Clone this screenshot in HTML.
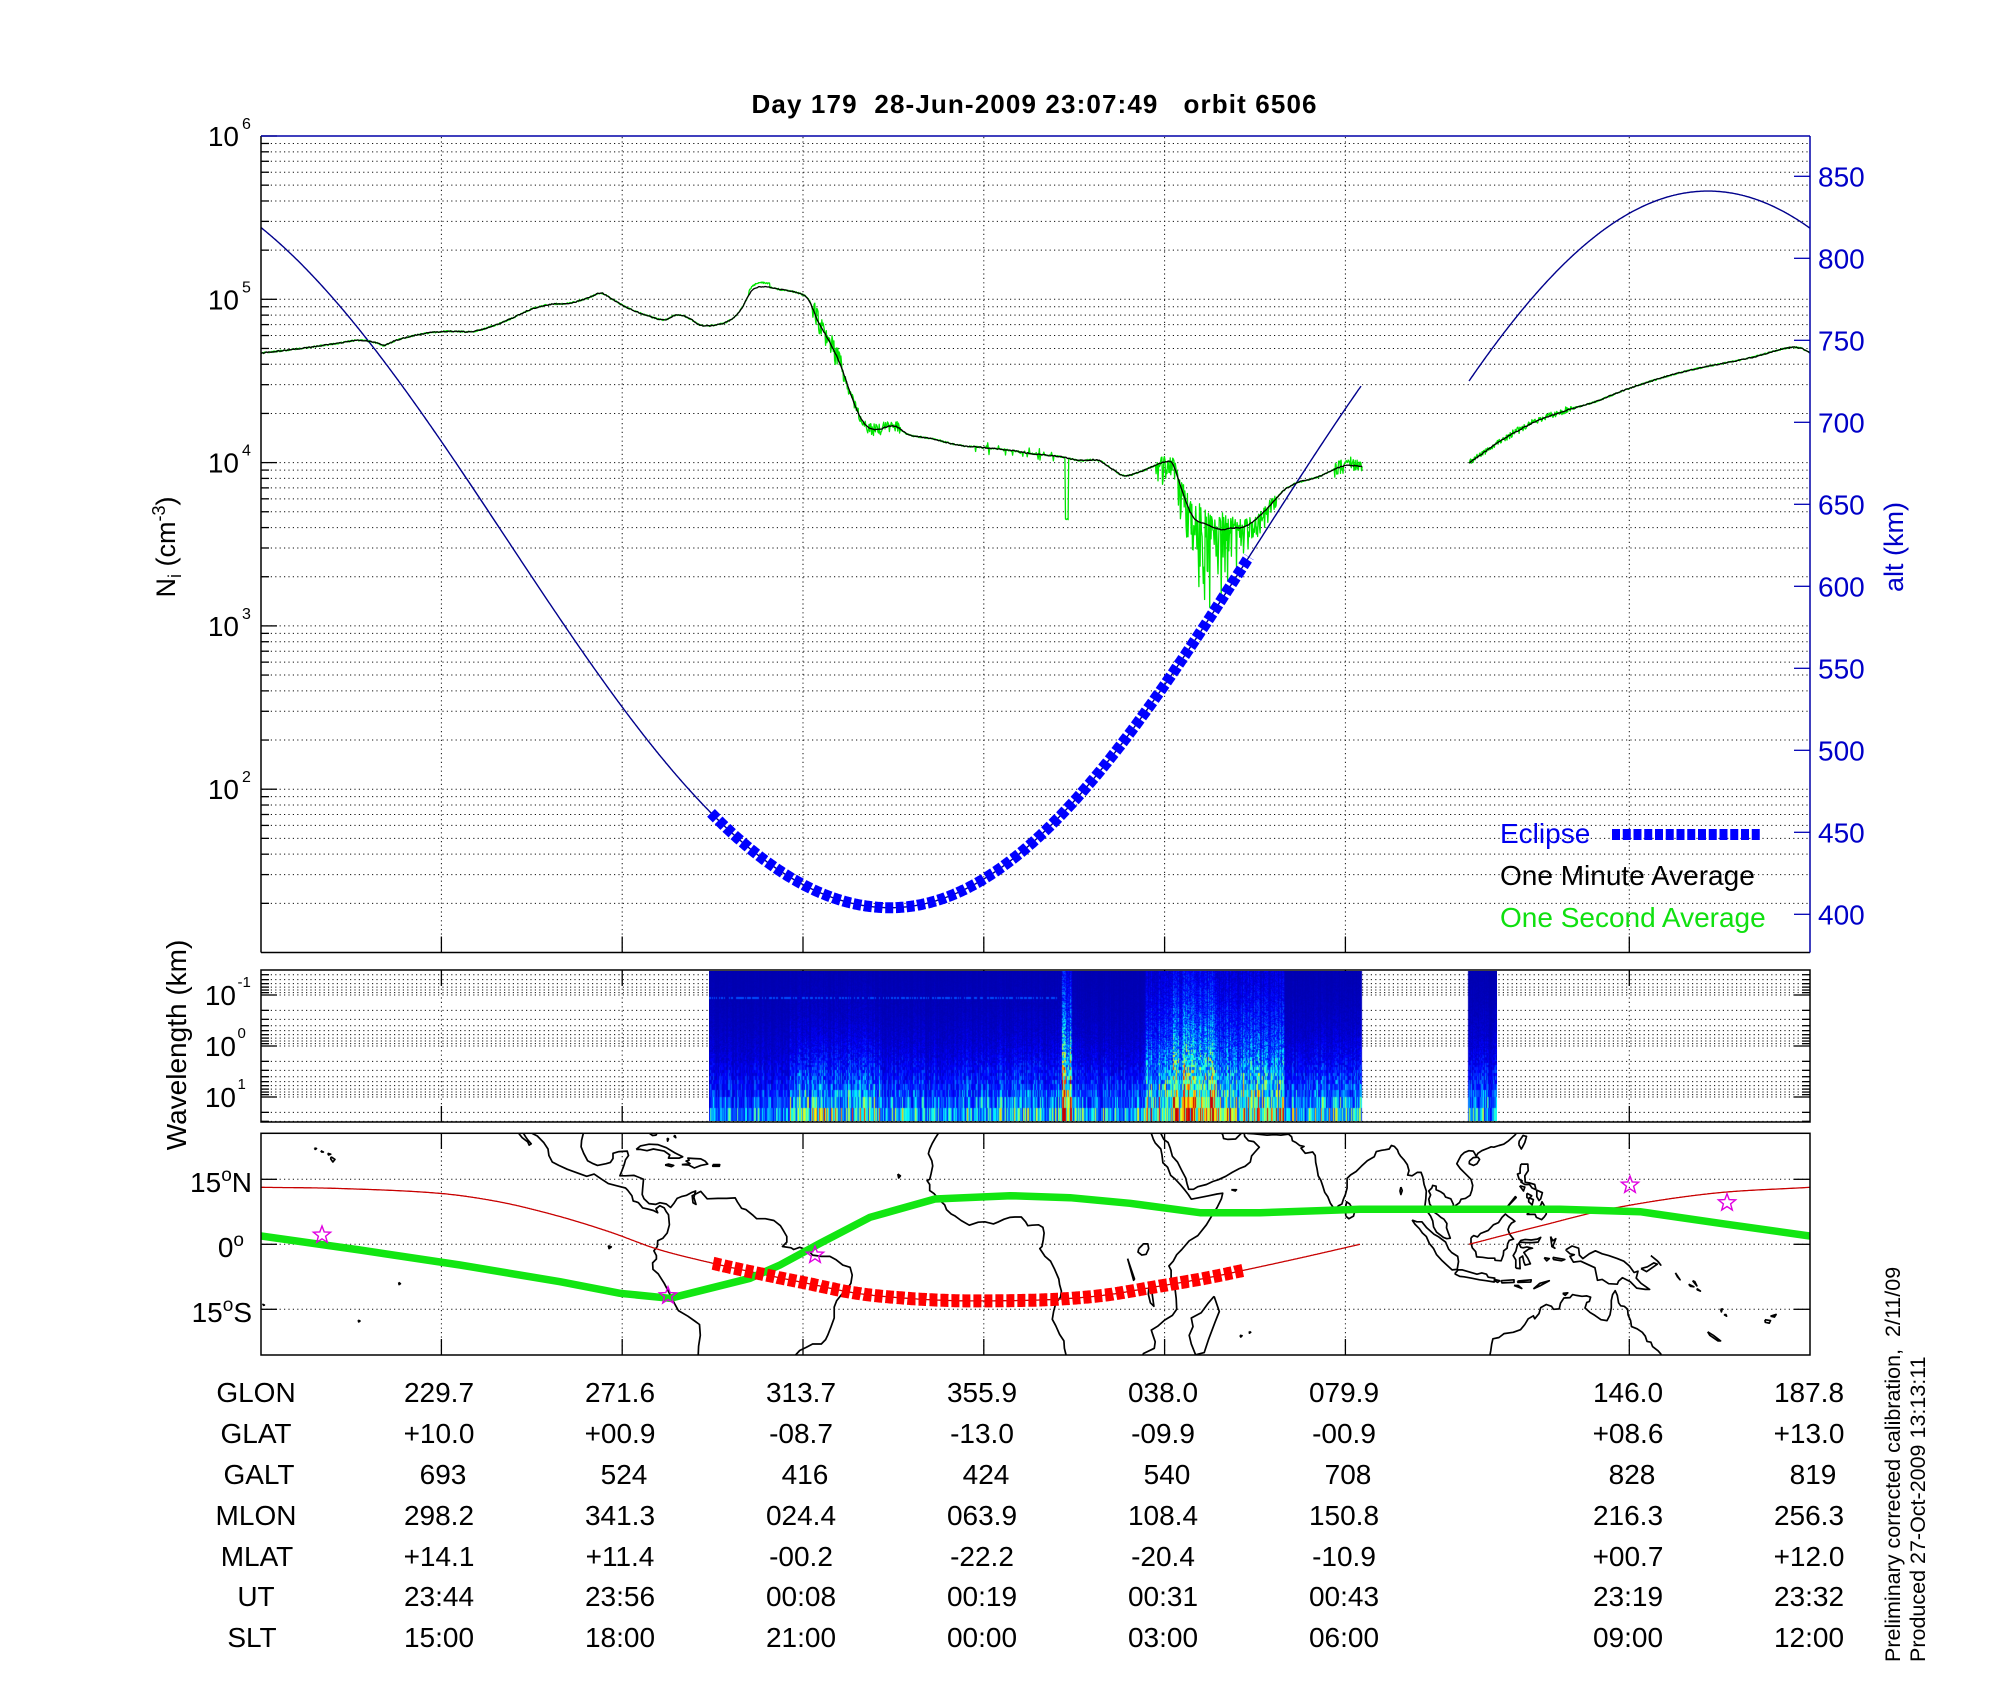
<!DOCTYPE html>
<html><head><meta charset="utf-8"><title>chart</title>
<style>
html,body{margin:0;padding:0;background:#fff;}
#wrap{position:relative;width:2000px;height:1700px;overflow:hidden;background:#fff;}
#s{position:absolute;left:0;top:0;}
#spec{position:absolute;left:709px;top:971px;}
text{font-family:"Liberation Sans",Arial,Helvetica,sans-serif;white-space:pre;}
</style></head>
<body><div id="wrap">
<svg id="s" xmlns="http://www.w3.org/2000/svg" width="2000" height="1700" viewBox="0 0 2000 1700">
<defs>
<clipPath id="cMain"><rect x="261" y="136" width="1549" height="816.5"/></clipPath>
<clipPath id="cMap"><rect x="261" y="1133.3" width="1549" height="221.7"/></clipPath>
</defs>
<rect x="0" y="0" width="2000" height="1700" fill="#fff"/>
<g id="grid"></g>
<g id="ticks"></g>
<g id="mainCurves" clip-path="url(#cMain)"></g>
<g id="mapG" clip-path="url(#cMap)"></g>
<g id="frames">
 <line x1="261" y1="136" x2="261" y2="952.5" stroke="#000" stroke-width="1.5"/>
 <line x1="261" y1="952.5" x2="1810" y2="952.5" stroke="#000" stroke-width="1.5"/>
 <line x1="261" y1="136" x2="1810" y2="136" stroke="#0000a8" stroke-width="1.5"/>
 <line x1="1810" y1="136" x2="1810" y2="952.5" stroke="#0000a8" stroke-width="1.5"/>
 <rect x="261" y="970" width="1549" height="152" fill="none" stroke="#000" stroke-width="1.5"/>
 <rect x="261" y="1133.3" width="1549" height="221.7" fill="none" stroke="#000" stroke-width="1.5"/>
</g>
<g id="legend"></g>

<text x="1034" y="113" font-weight="bold" font-size="26" text-anchor="middle" textLength="565" lengthAdjust="spacing" xml:space="preserve">Day 179  28-Jun-2009 23:07:49   orbit 6506</text>

<g font-size="28" fill="#000">
<text x="239" y="146" text-anchor="end">10</text><text x="242" y="129" font-size="16">6</text>
<text x="239" y="309.3" text-anchor="end">10</text><text x="242" y="292.3" font-size="16">5</text>
<text x="239" y="472.6" text-anchor="end">10</text><text x="242" y="455.6" font-size="16">4</text>
<text x="239" y="635.9" text-anchor="end">10</text><text x="242" y="618.9" font-size="16">3</text>
<text x="239" y="799.2" text-anchor="end">10</text><text x="242" y="782.2" font-size="16">2</text>
</g>
<text transform="translate(175,547) rotate(-90)" text-anchor="middle" font-size="27">N<tspan font-size="18" dy="6">i</tspan><tspan dy="-6"> (cm</tspan><tspan font-size="18" dy="-10">-3</tspan><tspan dy="10">)</tspan></text>

<g font-size="28" fill="#0000c8">
<text x="1818" y="186.3">850</text>
<text x="1818" y="268.3">800</text>
<text x="1818" y="350.3">750</text>
<text x="1818" y="432.3">700</text>
<text x="1818" y="514.3">650</text>
<text x="1818" y="596.3">600</text>
<text x="1818" y="678.3">550</text>
<text x="1818" y="760.3">500</text>
<text x="1818" y="842.3">450</text>
<text x="1818" y="924.3">400</text>
</g>
<text transform="translate(1903,547) rotate(-90)" text-anchor="middle" font-size="27" fill="#0000c8">alt (km)</text>

<text x="1500" y="843" font-size="28" fill="#0000ee">Eclipse</text>
<text x="1500" y="885" font-size="28" fill="#000">One Minute Average</text>
<text x="1500" y="927" font-size="28" fill="#10e010">One Second Average</text>

<g font-size="28">
<text x="236" y="1005" text-anchor="end">10</text><text x="237.5" y="987" font-size="15">-1</text>
<text x="236" y="1056" text-anchor="end">10</text><text x="237.5" y="1038" font-size="15">0</text>
<text x="236" y="1107" text-anchor="end">10</text><text x="237.5" y="1089" font-size="15">1</text>
</g>
<text transform="translate(186,1045) rotate(-90)" text-anchor="middle" font-size="28">Wavelength (km)</text>

<g font-size="28">
<text x="252" y="1192" text-anchor="end">15<tspan font-size="19" dy="-11">o</tspan><tspan dy="11">N</tspan></text>
<text x="244" y="1257" text-anchor="end">0<tspan font-size="19" dy="-11">o</tspan></text>
<text x="252" y="1322" text-anchor="end">15<tspan font-size="19" dy="-11">o</tspan><tspan dy="11">S</tspan></text>
</g>

<g font-size="28" text-anchor="middle" fill="#000">
<text x="256" y="1402">GLON</text><text x="439" y="1402">229.7</text><text x="620" y="1402">271.6</text><text x="801" y="1402">313.7</text><text x="982" y="1402">355.9</text><text x="1163" y="1402">038.0</text><text x="1344" y="1402">079.9</text><text x="1628" y="1402">146.0</text><text x="1809" y="1402">187.8</text>
<text x="256" y="1443">GLAT</text><text x="439" y="1443">+10.0</text><text x="620" y="1443">+00.9</text><text x="801" y="1443">-08.7</text><text x="982" y="1443">-13.0</text><text x="1163" y="1443">-09.9</text><text x="1344" y="1443">-00.9</text><text x="1628" y="1443">+08.6</text><text x="1809" y="1443">+13.0</text>
<text x="259" y="1484">GALT</text><text x="443" y="1484">693</text><text x="624" y="1484">524</text><text x="805" y="1484">416</text><text x="986" y="1484">424</text><text x="1167" y="1484">540</text><text x="1348" y="1484">708</text><text x="1632" y="1484">828</text><text x="1813" y="1484">819</text>
<text x="256" y="1525">MLON</text><text x="439" y="1525">298.2</text><text x="620" y="1525">341.3</text><text x="801" y="1525">024.4</text><text x="982" y="1525">063.9</text><text x="1163" y="1525">108.4</text><text x="1344" y="1525">150.8</text><text x="1628" y="1525">216.3</text><text x="1809" y="1525">256.3</text>
<text x="257" y="1566">MLAT</text><text x="439" y="1566">+14.1</text><text x="620" y="1566">+11.4</text><text x="801" y="1566">-00.2</text><text x="982" y="1566">-22.2</text><text x="1163" y="1566">-20.4</text><text x="1344" y="1566">-10.9</text><text x="1628" y="1566">+00.7</text><text x="1809" y="1566">+12.0</text>
<text x="256" y="1606">UT</text><text x="439" y="1606">23:44</text><text x="620" y="1606">23:56</text><text x="801" y="1606">00:08</text><text x="982" y="1606">00:19</text><text x="1163" y="1606">00:31</text><text x="1344" y="1606">00:43</text><text x="1628" y="1606">23:19</text><text x="1809" y="1606">23:32</text>
<text x="252" y="1647">SLT</text><text x="439" y="1647">15:00</text><text x="620" y="1647">18:00</text><text x="801" y="1647">21:00</text><text x="982" y="1647">00:00</text><text x="1163" y="1647">03:00</text><text x="1344" y="1647">06:00</text><text x="1628" y="1647">09:00</text><text x="1809" y="1647">12:00</text>
</g>

<text transform="translate(1900,1662) rotate(-90)" font-size="21.5" xml:space="preserve">Preliminary corrected calibration,  2/11/09</text>
<text transform="translate(1925,1662) rotate(-90)" font-size="21.5">Produced 27-Oct-2009 13:13:11</text>
</svg>
<canvas id="spec" width="788" height="150"></canvas>
</div>
<script>
(function(){
const NS='http://www.w3.org/2000/svg';
function el(p,t,a){const e=document.createElementNS(NS,t);for(const k in a)e.setAttribute(k,a[k]);p.appendChild(e);return e;}
let seed=20090628;
function R(){seed|=0;seed=seed+0x6D2B79F5|0;let t=Math.imul(seed^seed>>>15,1|seed);t=t+Math.imul(t^t>>>7,61|t)^t;return((t^t>>>14)>>>0)/4294967296;}
function interp(P,x){let i=0;while(i<P.length-2&&x>P[i+1][0])i++;const p0=P[Math.max(i-1,0)],p1=P[i],p2=P[i+1],p3=P[Math.min(i+2,P.length-1)];const dx=p2[0]-p1[0];let t=(x-p1[0])/dx;t=Math.max(0,Math.min(1,t));const m1=(p2[1]-p0[1])/(p2[0]-p0[0])*dx,m2=(p3[1]-p1[1])/(p3[0]-p1[0])*dx;const t2=t*t,t3=t2*t;return(2*t3-3*t2+1)*p1[1]+(t3-2*t2+t)*m1+(-2*t3+3*t2)*p2[1]+(t3-t2)*m2;}
const X=xd=>261+(xd-204)*1.276, Y=yd=>136+(yd-106)*1.277;
const XT=[441.4,622.2,803,983.8,1164.6,1345.4,1629.3];
const grid=document.getElementById('grid'), ticks=document.getElementById('ticks');
const DOT={stroke:'#111','stroke-width':1,'stroke-dasharray':'1.2,3.2',fill:'none'};
function dl(x1,y1,x2,y2){el(grid,'line',Object.assign({x1:x1,y1:y1,x2:x2,y2:y2},DOT));}
function tl(x1,y1,x2,y2,c){el(ticks,'line',{x1:x1,y1:y1,x2:x2,y2:y2,stroke:c||'#000','stroke-width':1.3});}
const yN=v=>136+(6-v)*163.3;
for(const x of XT){dl(x,137,x,951.5);tl(x,952.5,x,936.5);}
for(let d=1;d<=6;d++)for(let k=1;k<=9;k++){const v=d+Math.log10(k);if(v<=1.0001||v>6.0001)continue;const y=yN(v);if(v<5.9999)dl(262,y,1809,y);tl(261,y,261+(k==1?16:8),y);}
for(let a=400;a<=850;a+=50){const y=176.3+(850-a)*1.64;tl(1794,y,1810,y,'#0000b4');}
const yS=l=>1046+51*l;
for(let n=-2;n<=1;n++)for(let k=1;k<=9;k++){const l=n+Math.log10(k);const y=yS(l);if(y<=970.5||y>=1121.5)continue;dl(262,y,1809,y);const L=(k==1?16:8);tl(261,y,261+L,y);tl(1810,y,1810-L,y);}
for(const x of XT){dl(x,971,x,1121);tl(x,970,x,986);tl(x,1122,x,1106);}
for(const lat of [15,0,-15]){const y=1244.3-lat*4.333;dl(262,y,1809,y);tl(261,y,277,y);tl(1810,y,1794,y);}
for(const x of XT){dl(x,1134,x,1354);tl(x,1133.3,x,1149);tl(x,1355,x,1339);}

const mc=document.getElementById('mainCurves');
const altY=a=>176.3+(850-a)*1.64;
function altPre(x){const x0=890;if(x<x0)return 404+224.7*(1-Math.cos(0.0041*(x0-x)));return 404+225.7*(1-Math.cos(0.00423*(x-x0)));}
function altPost(x){return 841-247*(1-Math.cos(0.00423*(x-1708)));}
function pathFn(x0,x1,step,f){let d='';for(let x=x0;x<=x1+1e-6;x+=step){d+=(d?'L':'M')+x.toFixed(1)+' '+f(x).toFixed(1);}return d;}
el(mc,'path',{d:pathFn(261,1361,1,x=>altY(altPre(x)))+pathFn(1469,1810,1,x=>altY(altPost(x))),stroke:'#00008c','stroke-width':1.4,fill:'none'});

const BK1=[[204,276],[230,273],[260,269],[280,266],[295,268],[300,270],[310,266],[330,261],[350,259],[370,259],[385,255],[400,249],[415,242],[430,238],[445,237],[460,233],[470,229],[478,233],[490,240],[505,246],[520,250],[530,246],[540,249],[548,254],[560,254],[572,250],[580,242],[588,228],[595,224],[610,226],[625,229],[633,234],[640,250],[650,268],[658,285],[668,313],[676,330],[685,336],[700,333],[712,340],[730,343],[750,348],[770,350],[790,352],[810,355],[830,357],[845,360],[860,360],[870,366],[880,372],[890,370],[900,366],[910,362],[918,362],[922,372],[928,390],[935,405],[945,410],[955,414],[965,413],[975,412],[985,405],[995,395],[1005,384],[1015,378],[1025,375],[1035,372],[1045,367],[1055,364],[1067,365]];
const BK2=[[1151,362],[1165,352],[1180,342],[1200,331],[1215,325],[1230,320],[1250,314],[1270,306],[1290,299],[1310,293],[1330,288],[1350,284],[1370,280],[1385,276],[1400,272],[1410,272],[1418,276]];
function gN(x){
 let n=(R()-0.5)*1.2;
 if(x>586&&x<603) n-=3;
 if(x>636&&x<662) n+=(R()-0.5)*18;
 else if(x>=662&&x<706) n+=(R()-0.5)*9;
 if(x>760&&x<832&&R()<0.2) n+=(R()-0.5)*10;
 if(x>=834.5&&x<=836.5) n+=48;
 if(x>905&&x<1000){const A=50*Math.exp(-Math.pow((x-947)/22,2))+14;const r=R();n+= r<0.55? Math.pow(R(),1.5)*A : -(R()*A*0.25);}
 if(x>1045&&x<1068) n+=(R()-0.5)*12;
 if(x>1151&&x<1235) n+=(R()-0.5)*5;
 return n;
}
let dg='';
for(const P of [BK1,BK2]){let first=true;for(let xd=P[0][0];xd<=P[P.length-1][0]+1e-6;xd+=0.5){const yd=interp(P,xd)+gN(xd);dg+=(first?'M':'L')+X(xd).toFixed(1)+' '+Y(yd).toFixed(1);first=false;}}
el(mc,'path',{d:dg,stroke:'#00e600','stroke-width':1.3,fill:'none','stroke-linejoin':'round'});
let db='';
for(const P of [BK1,BK2]){let first=true;for(let xd=P[0][0];xd<=P[P.length-1][0]+1e-6;xd+=1){const yd=interp(P,xd)+(R()-0.5)*0.8;db+=(first?'M':'L')+X(xd).toFixed(1)+' '+Y(yd).toFixed(1);first=false;}}
el(mc,'path',{d:db,stroke:'#000','stroke-width':1.3,fill:'none','stroke-linejoin':'round'});
el(mc,'path',{d:pathFn(711,1249,1,x=>altY(altPre(x))),stroke:'#0000ff','stroke-width':11,'stroke-dasharray':'8,2.7',fill:'none'});

const lg=document.getElementById('legend');
for(let i=0;i<14;i++){el(lg,'rect',{x:1612+i*10.75,y:829,width:8,height:11,fill:'#0000ff'});}

const mg=document.getElementById('mapG');
const MX=lon=>{let L=lon+360;if(L<187.8)L+=360;return 261+(L-187.8)*4.303;}, MY=lat=>1244.3-lat*4.333;
const COAST=[
[[-155.9,20.2],[-155,19.6],[-155.5,19],[-156,19.7],[-155.9,20.2]],
[[-156.7,21],[-156,20.8],[-156.5,20.6],[-156.7,21]],
[[-158.3,21.6],[-157.7,21.3],[-158.1,21.3],[-158.3,21.6]],
[[-159.8,22.2],[-159.3,22.1],[-159.6,21.9],[-159.8,22.2]],
[[-112.3,25.6],[-111.5,24.6],[-110.2,23.6],[-109.9,22.9],[-109.4,23.2],[-110.3,24.2],[-110.7,24.8],[-111.2,25.6]],
[[-109.2,25.6],[-108,25],[-106.5,23.5],[-105.5,22],[-105.3,20.5],[-104.5,19],[-103,18.2],[-101,17.3],[-99,16.6],[-96.5,15.7],[-94.8,16.2],[-93,15],[-91.5,14],[-89.5,13.5],[-87.5,13],[-87,12.5],[-86,11.2],[-85.7,10],[-85,9.8],[-84.5,9.6],[-83.5,8.4],[-82.5,8.2],[-81,7.8],[-80,7.3],[-80.4,8.2],[-79.5,8.9],[-78.5,8.4],[-78,7.5],[-77.5,6.8],[-77.3,4.5],[-77.8,2.6],[-78.8,1.4],[-80,0.8],[-80.1,-0.5],[-80.9,-1.5],[-80.3,-2.6],[-80.3,-3.4],[-81.2,-4.3],[-81.1,-5.8],[-79.9,-6.8],[-78.5,-9],[-77.2,-11.5],[-76.2,-13.5],[-75.2,-15.3],[-73,-16.6],[-71.4,-17.7],[-70.3,-18.5],[-70.1,-21],[-70.5,-23.5],[-70.6,-25.6]],
[[-97.3,25.6],[-97.7,24],[-97.8,22.5],[-97.2,21],[-96.3,19.3],[-95,18.6],[-94,18.2],[-92,18.6],[-91,18.9],[-90.4,19.8],[-90.4,21],[-89,21.4],[-87.1,21.5],[-86.8,20.5],[-87.5,19.5],[-87.8,18.4],[-88.3,17],[-88.8,15.8],[-87.5,15.8],[-85.5,15.9],[-84,15.3],[-83.3,15],[-83.5,13],[-83.6,11.5],[-83.2,10.5],[-82,9.4],[-80.5,9.2],[-79.5,9.6],[-78,9.3],[-77,8.5],[-76.2,9.5],[-75.5,10.6],[-74.5,11],[-73.3,11.3],[-72,12],[-71.2,12.3],[-71.6,10.8],[-71.1,9.2],[-71.8,9.6],[-72,11.2],[-70,12.2],[-68.5,10.5],[-66,10.6],[-64,10.6],[-62,10.7],[-61.5,9.8],[-60.5,8.3],[-59.5,8],[-58,6.8],[-57,5.9],[-55,5.9],[-53,5.5],[-51.5,4.3],[-51,3.5],[-50,1.8],[-50,0.5],[-51,-0.5],[-49,-0.8],[-48.4,-1.2],[-47,-0.7],[-45,-1.4],[-44,-2.5],[-42,-2.8],[-40,-2.8],[-38.5,-3.6],[-37,-4.8],[-35.3,-5.3],[-34.8,-7.1],[-35.1,-9],[-36,-10.3],[-37.2,-11.5],[-38.4,-13],[-39,-14.5],[-39,-17],[-39.7,-19],[-40.5,-21],[-41,-22],[-42,-23],[-44,-23],[-45.5,-23.8],[-47,-24.5],[-48,-25.6]],
[[-81.9,25.6],[-81.2,25.1],[-80.4,25.2],[-80.2,25.6]],
[[-85,21.9],[-84,22.7],[-82,23.1],[-80,23],[-78,22.3],[-76,21.1],[-74.2,20.2],[-75,19.9],[-77.5,19.9],[-77.2,20.6],[-78.5,21.5],[-81,22],[-82.5,21.6],[-84,21.9],[-85,21.9]],
[[-74.4,18.4],[-72.8,18.3],[-71.5,17.6],[-70,18.2],[-68.4,18.5],[-69,19.2],[-70,19.7],[-71.7,19.8],[-73,19.9],[-72.7,19.4],[-73.4,19.2],[-72.5,18.6],[-74.4,18.4]],
[[-78.3,18.3],[-77.5,18.5],[-76.3,18.2],[-76.8,17.9],[-78.3,18.3]],
[[-67.2,18.4],[-65.6,18.4],[-65.7,18],[-67.2,18],[-67.2,18.4]],
[[-77.8,24.5],[-77.7,23.8],[-77.5,24.3],[-77.8,24.5]],
[[-76,25.2],[-75.8,24.6],[-76.2,24.9],[-76,25.2]],
[[-91.5,-0.3],[-90.8,-0.6],[-91.3,-1],[-91.5,-0.3]],
[[-24.2,16.2],[-23.6,15.8],[-24,15.3],[-24.2,16.2]],
[[-140.2,-8.8],[-139.8,-9.1],[-140.1,-9.3],[-140.2,-8.8]],
[[-149.6,-17.5],[-149.2,-17.7],[-149.5,-17.9],[-149.6,-17.5]],
[[-171.9,-13.8],[-171.4,-14.0],[-171.8,-14.1]],
[[-14.8,25.6],[-15.5,24.5],[-16.2,23.3],[-16.8,22],[-17.1,20.9],[-16.3,19.3],[-16.1,18.1],[-16.5,16.2],[-16.8,15],[-17.4,14.7],[-16.8,13.8],[-16.8,12.4],[-15.8,11.7],[-15,10.8],[-14.5,10.2],[-13.3,9.1],[-12.9,8],[-11.8,7],[-11,6.6],[-9.5,5.5],[-7.6,4.4],[-5.5,5.1],[-4,5.2],[-2,4.7],[-1,5.1],[0.5,5.8],[1.8,6.2],[3,6.3],[4.5,6.3],[5.5,5.2],[6,4.3],[7,4.4],[8.5,4.5],[9.5,3.9],[9.8,2.6],[9.6,1.1],[9.3,-0.5],[8.8,-1],[10,-2.8],[11.3,-3.9],[12.2,-5.7],[13.2,-8],[13.4,-9.3],[13.8,-10.8],[13.6,-12.2],[12.5,-13.6],[12,-15.5],[11.7,-17.3],[12.5,-18.8],[13.4,-20.8],[14.4,-22.3],[14.5,-24],[14.9,-25.6]],
[[32.7,-25.6],[32.9,-25.2],[35.4,-24],[35.6,-22.5],[35.1,-21],[34.7,-19.8],[36.2,-18.9],[37.8,-17.5],[39.6,-16.4],[40.6,-15],[40.5,-12.5],[40.2,-10.2],[39.3,-8],[39.3,-6],[38.8,-5],[39.8,-3.9],[40.6,-2.4],[41.8,-1.2],[43.5,0.8],[45.5,2],[47.5,4.5],[48.9,6.8],[50,8.5],[51,10.5],[51.3,11.8],[50,11.6],[48,11.2],[45.5,10.7],[44,10.4],[43.3,11.5],[42.5,12.5],[41.5,13.7],[40.3,15],[39.2,15.9],[38.5,17.8],[37.4,18.8],[37.2,20.6],[36.9,22],[35.6,23.4],[35.2,24.2],[34.7,25.6]],
[[36.9,25.6],[37.6,24.2],[38.6,23.5],[39.1,22.2],[39.6,20.3],[40.8,19],[41.8,17],[42.7,15.3],[43,14],[43.4,12.7],[44.5,12.7],[45.5,13.3],[47.5,13.8],[49,14.5],[50.3,14.9],[52,15.7],[53.5,16.6],[55.2,17.5],[56.5,18],[57.7,19],[58,20.4],[58.8,21.3],[59.8,22.4],[59.2,23],[58.5,23.7],[57.3,23.9],[56.4,24.9],[56.3,25.6]],
[[55.6,25.6],[54.3,24.3],[52.5,24.2],[51.5,24.4],[51.3,25.3],[51.1,25.6]],
[[53.3,12.6],[54.5,12.6],[54.2,12.3],[53.3,12.6]],
[[31.8,-1],[32.9,0.1],[33.9,0.1],[34.1,-1],[33.5,-2.3],[32.5,-2.5],[31.6,-1.8],[31.8,-1]],
[[29.2,-3.3],[30.6,-8.3],[30.8,-8],[29.6,-4.5],[29.2,-3.3]],
[[34.2,-9.5],[34.9,-11.5],[35.3,-14.3],[34.5,-13.5],[34,-11.5],[34.2,-9.5]],
[[49.3,-12],[50.5,-15.5],[49.5,-18],[48,-22],[47,-25],[45,-25.5],[44,-23],[43.5,-21],[44.4,-19],[44,-17],[46.3,-15.8],[48,-13.5],[49.3,-12]],
[[57.5,-20.1],[57.8,-20.3],[57.5,-20.5],[57.5,-20.1]],
[[55.3,-21],[55.8,-21.1],[55.5,-21.4],[55.3,-21]],
[[57,25.6],[58.5,25.5],[60.5,25.3],[61.6,25.2],[63.5,25.3],[64.8,25.2],[66.6,25.4],[67.3,24.8],[67.5,23.9],[68.3,23.5],[69.2,22.8],[70.2,22.6],[69.5,22.2],[70.5,21],[72.2,21.3],[72.8,20.5],[72.9,18.9],[73.2,17.5],[73.5,15.8],[74.1,14.8],[74.6,13.3],[75,12],[75.7,11],[76.3,9.5],[77,8.5],[77.5,8.1],[78.2,8.9],[79,9.3],[79.3,10.3],[79.8,11.5],[80.2,13],[80.2,15.2],[81,16],[82.3,16.8],[83.5,18],[84.9,19.3],[86.5,20.2],[87,21.4],[88.2,21.7],[89,21.8],[90,22],[90.5,22.8],[91.2,22.6],[91.9,21.8],[92.2,21],[92.6,20.4],[93.4,19.5],[94.2,18.4],[94.6,17],[94.3,16],[95.3,15.8],[96.5,16.6],[97.4,16.6],[97.8,15.5],[98.1,13.8],[98.6,12.3],[98.5,10.5],[98.3,9],[98.2,8],[98.6,7.9],[99.6,6.5],[100.1,5.4],[100.3,4],[101,2.8],[102.6,1.6],[103.4,1.3],[104.2,1.4],[103.7,2.7],[103.3,3.8],[103.4,4.8],[102.7,5.8],[102,6.2],[101.2,6.9],[100.3,7.5],[100,8.5],[99.4,9.3],[99.2,10.4],[99.6,11.4],[99.2,12.3],[99.9,13],[100.1,13.6],[100.9,13.4],[100.9,12.6],[102,12.1],[102.7,11.6],[103.1,10.9],[104.3,10.5],[104.9,9.2],[104.8,8.6],[105.1,8.7],[106.3,9.6],[106.7,10.4],[107.7,10.6],[108.8,11.3],[109.2,12.5],[109.4,13.6],[109,15],[108.4,15.6],[107.5,16.5],[106.5,17.5],[105.7,18.6],[106.2,19.6],[106.7,20.5],[107.5,21.2],[108.5,21.6],[109.5,21.5],[109.8,21.1],[110.2,20.3],[110.6,21],[111.5,21.6],[113,22.2],[113.7,22.5],[114.3,22.4],[115.5,22.8],[116.6,23.1],[117.6,23.8],[118.5,24.6],[119.2,25.2],[119.5,25.6]],
[[79.9,6.5],[79.8,8.3],[80.1,9.8],[80.8,9.3],[81.3,8.5],[81.9,7.3],[81.7,6.5],[80.6,5.9],[79.9,6.5]],
[[92.7,13.2],[93,12.4],[92.7,11.5],[92.5,12.3],[92.7,13.2]],
[[108.6,19.2],[109.5,20],[110.6,20.1],[111,19.6],[110.4,18.6],[109.6,18.2],[108.6,18.6],[108.6,19.2]],
[[120.1,23],[120.7,22],[121,22.5],[121.5,23.5],[121.9,24.9],[121.1,25.1],[120.2,23.8],[120.1,23]],
[[95.3,5.6],[96.4,5.2],[97.6,5.2],[98.7,3.8],[100.4,2.3],[101.5,1.7],[103.1,0.5],[103.8,-1.1],[104.5,-1.9],[105.9,-2.8],[106.1,-4],[105.8,-5.8],[104.6,-5.9],[103.4,-4.8],[102.3,-3.8],[101,-2.4],[100.3,-1],[99.3,0.2],[98.6,1.8],[97.7,2.6],[97,3.6],[96,4.6],[95.3,5.6]],
[[105.2,-6.8],[106,-5.9],[107,-5.9],[108.3,-6.3],[110.4,-6.9],[111.5,-6.6],[112.6,-6.9],[113,-7.6],[114.5,-7.8],[114.4,-8.7],[112.5,-8.4],[111,-8.2],[109,-7.8],[107.4,-7.5],[106.4,-7.4],[105.4,-6.9],[105.2,-6.8]],
[[109,1.5],[109.6,2],[110.5,1.7],[111.2,2.5],[113,3.2],[114.2,4.5],[115.4,5],[116.2,6.2],[117,7],[117.7,6.4],[118.6,5.8],[119.2,5.3],[118.4,4.9],[117.9,4.2],[117.6,3.4],[118,2.3],[118.9,1.2],[117.9,0.9],[117.5,0.1],[117.4,-0.9],[116.6,-1.5],[116.5,-2.5],[116.2,-3.3],[116,-3.8],[114.6,-3.7],[114.5,-3.2],[113,-3.2],[111.7,-3],[110.3,-2.9],[110.1,-1.7],[109.3,-0.8],[109,0.3],[109,1.5]],
[[119.4,-5.5],[120.4,-5.6],[120.3,-3.2],[121,-2.7],[121.3,-4.1],[121.6,-4.8],[122.8,-4.5],[122.2,-3.2],[121.3,-1.9],[122.4,-1.1],[123.3,-0.9],[122,-0.6],[121.1,-0.8],[120.6,-0.7],[120.1,0.2],[120.6,0.9],[121.6,1.1],[123,1],[124.4,1.2],[125.2,1.6],[124.6,0.5],[123.2,0.4],[121.8,0.4],[120.4,0.5],[119.8,-0.1],[119.4,-1.6],[118.8,-2.6],[119.4,-3.6],[119.4,-5.5]],
[[120.6,18.5],[122.2,18.5],[122.3,17],[121.5,15.8],[121.6,14.3],[122.5,14.2],[123.8,13.8],[124.1,12.6],[123.2,13],[122.6,13.8],[121.5,13.8],[120.6,14.4],[120.9,14.6],[120.2,15],[119.8,16.2],[120.4,16.4],[120.4,17.5],[120.6,18.5]],
[[120.4,13.5],[121.5,13.2],[121.2,12.3],[120.3,13.5]],
[[117.2,8.4],[119.5,10.8],[119.3,11],[117.2,8.4]],
[[122,11.8],[123.1,11.2],[122.5,10.5],[122,10.8],[122,11.8]],
[[122.4,10.8],[123.5,10.3],[123.2,9.1],[122.4,9.8],[122.4,10.8]],
[[124.3,12.5],[125.6,11.9],[125.2,10.5],[124.8,10.1],[124.3,11],[124.3,12.5]],
[[122,7.1],[123.5,7.8],[124.3,8.3],[125.2,9],[125.5,9.8],[126.4,8.3],[126.5,7],[126,6.3],[125.4,5.7],[124.2,6.2],[123.9,6.9],[122.1,6.9],[122,7.1]],
[[127.5,1.8],[128,0.8],[128.7,1.3],[128,-0.5],[128.5,-0.9],[127.8,-0.5],[127.5,1.8]],
[[128,-3],[130.8,-3.5],[130,-3.8],[128.2,-3.5],[128,-3]],
[[126,-3.1],[127.2,-3.3],[126.6,-3.8],[126,-3.1]],
[[114.4,-8.1],[115.7,-8.4],[115.2,-8.8],[114.5,-8.4],[114.4,-8.1]],
[[116,-8.4],[119,-8.2],[119,-8.8],[116.2,-8.9],[116,-8.4]],
[[119.8,-8.5],[123,-8.2],[122.9,-8.7],[119.9,-8.8],[119.8,-8.5]],
[[119,-9.5],[120.8,-10.2],[120,-9.5],[119,-9.5]],
[[123.5,-10.3],[125,-9],[127.2,-8.4],[125,-9.6],[123.5,-10.3]],
[[131,-1.3],[132.5,-0.4],[134,-0.9],[134.2,-2.5],[135,-3.3],[136.5,-2.2],[137.9,-1.5],[139.5,-2.2],[141,-2.6],[143,-3.3],[144.5,-3.9],[145.8,-5],[146.9,-6.5],[147.8,-6.2],[147.4,-7.8],[148.5,-9],[149.5,-9.7],[150.5,-10.4],[149.5,-10.4],[147.5,-10.1],[146,-8.6],[144.2,-7.7],[143.3,-8.5],[143,-9.2],[141,-9.1],[139.5,-8.1],[138.4,-8.3],[137.8,-5.4],[136,-4.6],[134.5,-3.9],[132.8,-4.1],[132,-2.8],[133,-2.4],[132,-2.2],[131,-1.3]],
[[148.5,-5.6],[150,-5.2],[151.5,-4.3],[152.3,-4.6],[151,-5.5],[149.8,-6.3],[148.5,-5.6]],
[[150.8,-2.6],[152.5,-4],[153.1,-4.8],[152.3,-3.8],[150.8,-2.6]],
[[156.5,-6.6],[157.6,-8.2],[157,-7.5],[156.5,-6.6]],
[[159.6,-9.2],[160.8,-9.8],[160,-9.7],[159.6,-9.2]],
[[160.5,-8.4],[161.5,-9.6],[161,-8.6],[160.5,-8.4]],
[[161.5,-10.2],[162.3,-10.8],[161.6,-10.5],[161.5,-10.2]],
[[167,-15],[167.2,-15.6],[167.4,-14.9],[167,-15]],
[[168.2,-16.1],[168.4,-16.6],[167.9,-16.3],[168.2,-16.1]],
[[164,-20.2],[165.3,-21],[167,-22.3],[166.4,-22.3],[164.5,-21],[164,-20.2]],
[[177.3,-17.4],[178.6,-17.6],[178.3,-18.2],[177.4,-18],[177.3,-17.4]],
[[178.6,-16.6],[179.9,-16.2],[179.5,-16.8],[178.6,-16.6]],
[[113.4,-25.6],[113.6,-24.5],[113.8,-23],[114.1,-21.8],[115.5,-21.5],[116.7,-20.6],[118.8,-20.3],[120.5,-19.7],[121.5,-18.5],[122.3,-17.2],[123.5,-16.5],[123.8,-17.2],[124.8,-16],[125.2,-14.6],[126.5,-13.9],[127.7,-14.3],[128.2,-15],[129.5,-14.9],[129.8,-13.6],[130.6,-12.4],[132,-12.3],[132.6,-11.6],[133.5,-11.8],[134.8,-12],[135.9,-11.9],[136.8,-12.2],[136.5,-13.2],[135.9,-13.4],[135.5,-14.7],[136.6,-15.7],[137.8,-16.4],[139.2,-17.4],[140.6,-17.6],[141.3,-16.3],[141.6,-14.6],[141.6,-13],[141.9,-11.6],[142.5,-10.7],[143,-11.8],[143.3,-13.5],[143.8,-14.2],[144.6,-14.3],[145.4,-15],[145.5,-16.3],[146.1,-17.6],[146.3,-19],[147.6,-19.5],[148.8,-20.3],[149.5,-21.2],[149.9,-22.4],[150.8,-22.6],[151.2,-23.6],[152.5,-24.6],[153.1,-25.3],[153.2,-25.6]],
[[130.3,-11.3],[131.5,-11.2],[130.9,-11.8],[130.3,-11.3]]
];
for(const c of COAST){el(mg,'polyline',{points:c.map(p=>MX(p[0]).toFixed(1)+','+MY(p[1]).toFixed(1)).join(' '),fill:'none',stroke:'#000','stroke-width':1.7,'stroke-linejoin':'round'});}

const RED1=[[261,1187.3],[340,1188.5],[439,1193.3],[500,1202],[558,1216],[610,1232],[658,1249.3],[713,1263.3],[758,1273.3],[807,1283.3],[857,1293.3],[907,1298.3],[956,1300.7],[1006,1300.7],[1056,1299.3],[1106,1295],[1156,1286.7],[1205,1278.3],[1245,1270],[1300,1258],[1360,1244.3]];
const RED2=[[1469,1244.3],[1540,1226],[1613,1208.3],[1713,1193.3],[1810,1187.3]];
el(mg,'path',{d:pathFn(261,1360,1,x=>interp(RED1,x))+pathFn(1469,1810,1,x=>interp(RED2,x)),stroke:'#c80000','stroke-width':1.3,fill:'none'});
const GRN=[[261,1236],[360,1250],[460,1265],[560,1281.7],[620,1293.3],[670,1298.3],[750,1278.3],[780,1265],[820,1243.3],[870,1217.3],[935,1199],[1010,1195.7],[1070,1197.7],[1130,1203.3],[1200,1212.7],[1260,1212.7],[1360,1209.3],[1460,1209.3],[1560,1209.3],[1640,1211.7],[1720,1223.3],[1810,1236]];
el(mg,'polyline',{points:GRN.map(p=>p[0]+','+p[1]).join(' '),fill:'none',stroke:'#12e612','stroke-width':7.5,'stroke-linejoin':'round'});
el(mg,'path',{d:pathFn(713,1245,1,x=>interp(RED1,x)),stroke:'#ff0000','stroke-width':13,'stroke-dasharray':'8,3',fill:'none'});
function star(cx,cy,r1,r2){let pts=[];for(let i=0;i<10;i++){const r=i%2?r2:r1;const a=-Math.PI/2+i*Math.PI/5;pts.push((cx+r*Math.cos(a)).toFixed(1)+','+(cy+r*Math.sin(a)).toFixed(1));}return pts.join(' ');}
for(const s of [[322,1235],[668,1295.7],[815,1255],[1630,1185],[1727,1202.7]]){el(mg,'polygon',{points:star(s[0],s[1],9,3.8),fill:'none',stroke:'#e000e0','stroke-width':1.4});}

const cv=document.getElementById('spec');const ctx=cv.getContext('2d');const W=788,H=150;const im=ctx.createImageData(W,H);
function cl(v){return Math.max(0,Math.min(1,v));}
function jet(v){v=cl(v);return [cl(Math.min(4*v-1.5,-4*v+4.5))*255,cl(Math.min(4*v-0.5,-4*v+3.5))*255,cl(Math.min(4*v+0.5,-4*v+2.5))*255];}
function hsh(a,b){const s=Math.sin(a*12.9898+b*78.233)*43758.5453;return s-Math.floor(s);}
function mreg(x){if(x>=1468)return 0.45;if(x<790)return 0.32;if(x<880)return 0.6;if(x<1000)return 0.42;if(x<1062)return 0.45;if(x<1072)return 1.3;if(x<1145)return 0.38;if(x<1168)return 0.75;if(x<1215)return 1.15;if(x<1285)return 0.75;return 0.5;}
for(let c=0;c<W;c++){const x=709+c;if(x>1361&&x<1468)continue;if(x>1496)continue;
 const a=mreg(x)*(0.45+1.0*R());
 const e=((x>=1145&&x<1285)||(x>=1062&&x<1072))?0.38:0.6;
 for(let r=0;r<H;r++){const y=971+r+0.5;const L=Math.pow(10,(y-1046)/51);const n=Math.max(1,Math.round(25/L));const h=hsh(c,n);const P=a*Math.pow(n,-e)*(0.4+1.2*h);let v=0.045+0.7*P;if(x<1057&&Math.abs(y-998)<1&&hsh(c,7)<0.6)v=Math.max(v,0.2);if(v>0.93)v=0.93;const col=jet(v);const i=(r*W+c)*4;im.data[i]=col[0];im.data[i+1]=col[1];im.data[i+2]=col[2];im.data[i+3]=255;}}
ctx.putImageData(im,0,0);
})();
</script>
</body></html>
